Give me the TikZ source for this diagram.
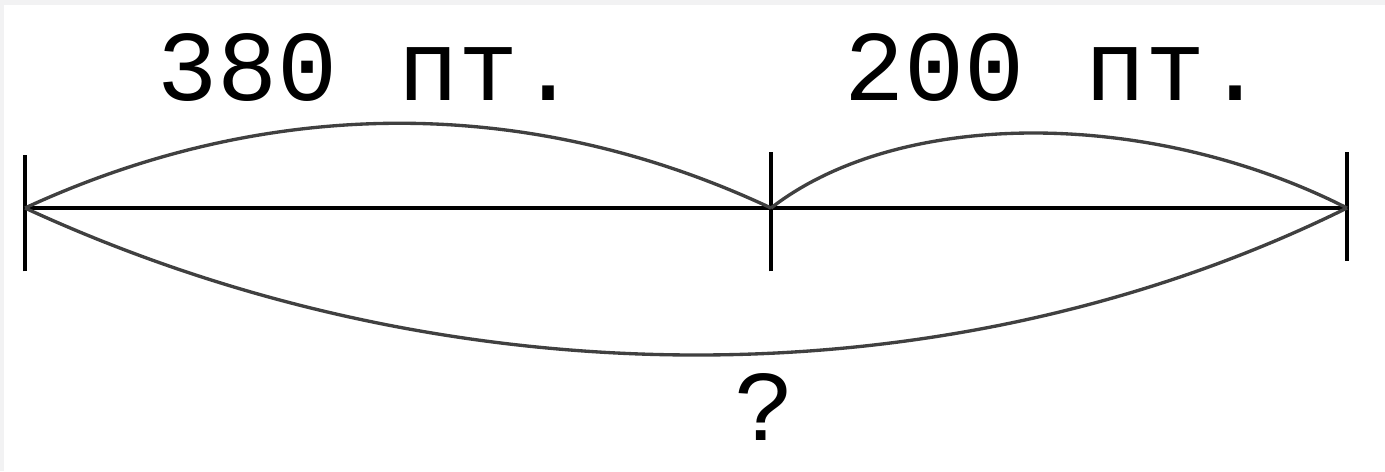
\documentclass[tikz,border=0pt]{standalone}
\usepackage{fontspec}
\setmonofont{Liberation Mono}
\usetikzlibrary{positioning}

\tikzset{
  label text/.style={font=\ttfamily\fontsize{57}{60}\selectfont, anchor=base, inner sep=0pt},
  tick mark/.style={line width=2.7pt},
  arc line/.style={line width=1.9pt, black!75}
}

\begin{document}
\begin{tikzpicture}[x=0.02cm, y=-0.02cm]
  % Frame and faint top/left strip
  \useasboundingbox (0,0) rectangle (1385,471);
  \fill[white] (0,0) rectangle (1385,471);
  \fill[blue!4!gray!10] (0,0) rectangle (1385,5);
  \fill[blue!4!gray!10] (0,0) rectangle (4,471);

  % Segment end points
  \coordinate (start) at (25,208);
  \coordinate (mid) at (771,208);
  \coordinate (end) at (1347,208);

  % Main segment
  \draw[line width=2.1pt] (start) -- (mid) -- (end);

  % Ticks
  \draw[tick mark] ([yshift=-36]start) -- ([yshift=30]start);
  \draw[tick mark] ([yshift=-36]mid) -- ([yshift=32]mid);
  \draw[tick mark] ([yshift=-30]end) -- ([yshift=32]end);

  % Upper arcs
  \draw[arc line] (start) .. controls (270,95) and (530,95) .. (mid);
  \draw[arc line] (mid) .. controls (900,108) and (1150,108) .. (end);

  % Lower arc
  \draw[arc line] (start) .. controls (450,404) and (950,404) .. (end);

  % Labels
  \node[label text] (left len) at (368,100) {380 пт.};
  \node[label text] (right len) at (1055,100) {200 пт.};
  \node[label text] (total) at (765,440) {?};
\end{tikzpicture}
\end{document}
